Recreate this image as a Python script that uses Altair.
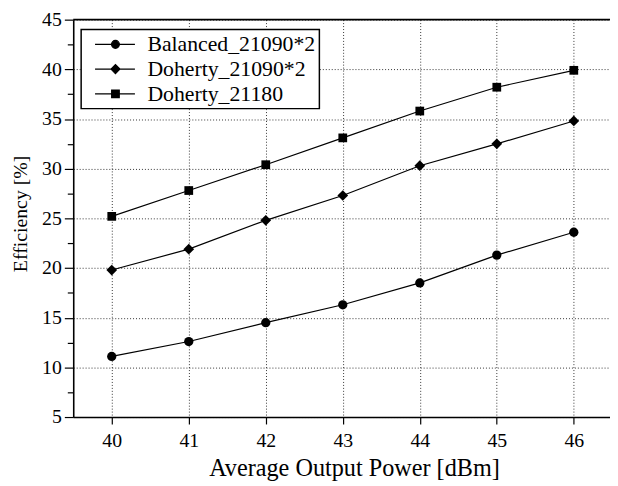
import altair as alt
import pandas as pd

# ---- data ----
power = [40, 41, 42, 43, 44, 45, 46]
balanced_21090x2 = [11.1, 12.6, 14.5, 16.3, 18.5, 21.3, 23.6]
doherty_21090x2 = [19.8, 21.9, 24.8, 27.3, 30.3, 32.5, 34.8]
doherty_21180 = [25.2, 27.8, 30.4, 33.1, 35.8, 38.2, 39.9]

series_names = ["Balanced_21090*2", "Doherty_21090*2", "Doherty_21180"]
series_values = [balanced_21090x2, doherty_21090x2, doherty_21180]

x_tick_values = [40, 40.5, 41, 41.5, 42, 42.5, 43, 43.5, 44, 44.5, 45, 45.5, 46]
y_tick_values = [5, 7.5, 10, 12.5, 15, 17.5, 20, 22.5, 25, 27.5, 30, 32.5, 35, 37.5, 40, 42.5, 45]
x_domain = [39.5, 46.47]
y_domain = [5, 45]

# ---- styles ----
marker_shapes = ["circle", "diamond", "square"]
marker_sizes = [88, 118, 78]
legend_symbols = [
    "M-0.2,0H8.4M3.35,0A0.85,0.85 0 1,1 5.05,0A0.85,0.85 0 1,1 3.35,0Z",
    "M-0.2,0H8.4M3.23,0L4.2,-0.97L5.17,0L4.2,0.97Z",
    "M-0.2,0H8.4M3.38,-0.82H5.02V0.82H3.38Z",
]
FONT = "Liberation Serif"

rows = []
for name, vals in zip(series_names, series_values):
    for p, v in zip(power, vals):
        rows.append({"power": p, "eff": v, "series": name})
df = pd.DataFrame(rows)
border = pd.DataFrame({"x0": [x_domain[0]], "x1": [x_domain[1]], "y": [y_domain[1]]})

xscale = alt.Scale(domain=x_domain, nice=False, zero=False)
yscale = alt.Scale(domain=y_domain, nice=False, zero=False)

x_axis = alt.Axis(
    values=x_tick_values,
    format="d",
    labelExpr="datum.value % 1 == 0 ? datum.label : ''",
    labelFont=FONT,
    labelFontSize=20,
    labelPadding=7,
    tickSize={"condition": {"test": "datum.value % 1 != 0", "value": 4}, "value": 7},
    gridOpacity={"condition": {"test": "datum.value % 1 != 0", "value": 0}, "value": 1},
    title="Average Output Power [dBm]",
    titleFont=FONT,
    titleFontSize=24.5,
    titlePadding=6,
    titleX=284,
)

y_axis = alt.Axis(
    values=y_tick_values,
    labelExpr="datum.value % 5 == 0 ? datum.label : ''",
    labelFont=FONT,
    labelFontSize=20,
    labelPadding=3,
    tickSize={"condition": {"test": "datum.value % 5 != 0", "value": 6}, "value": 9},
    gridOpacity={"condition": {"test": "datum.value % 5 != 0", "value": 0}, "value": 1},
    title="Efficiency [%]",
    titleFont=FONT,
    titleFontSize=20,
    titleX=-43,
    titleY=196,
)

X = alt.X("power:Q", scale=xscale, axis=x_axis)
Y = alt.Y("eff:Q", scale=yscale, axis=y_axis)

base = alt.Chart(df)

lines = base.mark_line(color="black", strokeWidth=1.2).encode(x=X, y=Y, detail="series:N")

point_layers = [
    base.transform_filter(alt.datum.series == name)
    .mark_point(filled=True, color="black", opacity=1, shape=shp, size=sz)
    .encode(x=X, y=Y)
    for name, shp, sz in zip(series_names, marker_shapes, marker_sizes)
]

legend_layer = base.mark_point(
    filled=False, color="black", fill="black", stroke="black", strokeWidth=1.2
).encode(
    x=X,
    y=Y,
    shape=alt.Shape(
        "series:N",
        scale=alt.Scale(domain=series_names, range=legend_symbols),
        legend=alt.Legend(
            title=None,
            orient="none",
            legendX=8,
            legendY=10,
            labelFont=FONT,
            labelFontSize=22,
            labelColor="black",
            labelLimit=0,
            labelOffset=41,
            symbolSize=88,
            symbolStrokeWidth=1.2,
            symbolOpacity=1,
            rowPadding=3,
            padding=4,
            strokeColor="black",
            fillColor="white",
        ),
    ),
    opacity=alt.value(0),
)

top_border = alt.Chart(border).mark_rule(color="black", strokeWidth=1.6).encode(
    x=alt.X("x0:Q", scale=xscale, axis=x_axis),
    x2="x1:Q",
    y=alt.Y("y:Q", scale=yscale, axis=y_axis),
)

chart = (
    alt.layer(lines, *point_layers, legend_layer, top_border)
    .properties(
        width=543,
        height=402,
        padding={"left": 66, "top": 9, "right": 0, "bottom": 70},
        autosize=alt.AutoSizeParams(type="none"),
        background="white",
    )
    .configure(
        font=FONT,
        style={
            "guide-label": {"font": FONT},
            "guide-title": {"font": FONT},
        },
    )
    .configure_view(stroke=None)
    .configure_axis(
        labelFont=FONT,
        labelColor="black",
        labelOverlap=False,
        labelFlush=False,
        tickColor="black",
        tickWidth=1.2,
        domainColor="black",
        domainWidth=1.6,
        grid=True,
        gridColor="black",
        gridWidth=0.8,
        gridDash=[1, 2],
        titleFont=FONT,
        titleFontWeight="normal",
        titleColor="black",
    )
    .configure_legend(
        strokeWidth=1.5,
        labelFont=FONT,
        labelColor="black",
    )
)

chart.save("out.html", embed_options={"renderer": "svg", "actions": False})
